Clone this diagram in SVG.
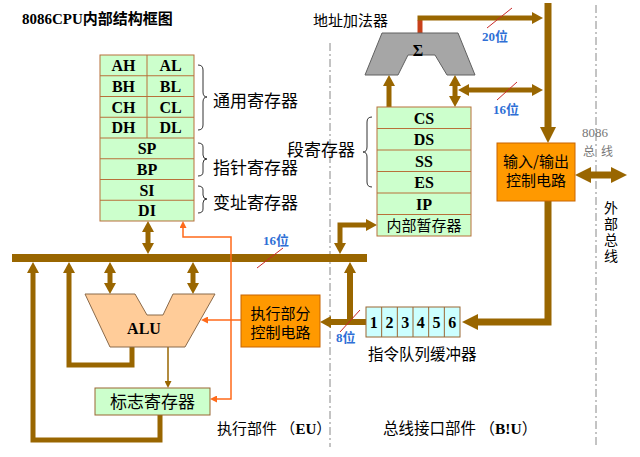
<svg xmlns="http://www.w3.org/2000/svg" width="640" height="457" viewBox="0 0 640 457">
<style>
.reg{fill:#ccffcc;stroke:#b8703a;stroke-width:1}
.q{fill:#ccffff;stroke:#996633;stroke-width:1}
.box{fill:#ff9900;stroke:#c86400;stroke-width:1}
.t{font-family:"Liberation Serif","Noto Sans CJK SC",serif;font-weight:bold;font-size:16px;text-anchor:middle;fill:#000}
.c{font-family:"Noto Sans CJK SC",sans-serif;font-size:17px;fill:#000}
.cm{font-family:"Noto Sans CJK SC",sans-serif;font-size:15px;fill:#000;text-anchor:middle}
.blue{font-family:"Liberation Serif","Noto Sans CJK SC",serif;font-weight:bold;font-size:13px;fill:#2f6fd6}
.b{stroke:#996600;fill:none;stroke-linejoin:miter}
.w5{stroke-width:5}
.w6{stroke-width:6}
.w7{stroke-width:7}
.or{stroke:#ff6a1a;fill:none;stroke-width:1.5}
.sl{stroke:#c82828;stroke-width:1}
.brace{stroke:#333;fill:none;stroke-width:1}
.div{stroke:#888;stroke-width:1;stroke-dasharray:8 3 2 3}
</style>
<defs>
<marker id="am" markerUnits="userSpaceOnUse" viewBox="0 -6 11 12" refX="0" refY="0" markerWidth="11" markerHeight="12" orient="auto-start-reverse"><path d="M0,-6 L11,0 L0,6 z" fill="#996600"/></marker>
<marker id="ab" markerUnits="userSpaceOnUse" viewBox="0 -8 16 16" refX="0" refY="0" markerWidth="16" markerHeight="16" orient="auto-start-reverse"><path d="M0,-8 L16,0 L0,8 z" fill="#996600"/></marker>
<marker id="ao" markerUnits="userSpaceOnUse" viewBox="0 -3.5 7 7" refX="0" refY="0" markerWidth="7" markerHeight="7" orient="auto-start-reverse"><path d="M0,-3.5 L7,0 L0,3.5 z" fill="#ff6a1a"/></marker>
<marker id="at" markerUnits="userSpaceOnUse" viewBox="0 -3.5 7 7" refX="0" refY="0" markerWidth="7" markerHeight="7" orient="auto-start-reverse"><path d="M0,-3.5 L7,0 L0,3.5 z" fill="#996600"/></marker>
</defs>
<rect width="640" height="457" fill="#fff"/>

<!-- dividers -->
<line class="div" x1="330" y1="43" x2="330" y2="447"/>
<line class="div" x1="596" y1="5" x2="596" y2="447"/>

<!-- title -->
<text x="22" y="24" style="font-family:'Liberation Serif','Noto Sans CJK SC',serif;font-weight:bold;font-size:15px">8086CPU内部结构框图</text>

<g id="connectors">
  <!-- EU bus -->
  <rect x="12" y="254" width="355" height="8" fill="#996600"/>
  <line class="sl" x1="257" y1="268" x2="283" y2="248"/>
  <!-- register <-> bus -->
  <line class="b w5" x1="148" y1="232" x2="148" y2="243" marker-start="url(#am)" marker-end="url(#am)"/>
  <!-- bus <-> ALU -->
  <line class="b w5" x1="110" y1="273" x2="110" y2="283" marker-start="url(#am)" marker-end="url(#am)"/>
  <line class="b w5" x1="193" y1="273" x2="193" y2="283" marker-start="url(#am)" marker-end="url(#am)"/>
  <!-- loops -->
  <path class="b w5" d="M160,415 V440 H33 V273" marker-end="url(#am)"/>
  <path class="b w5" d="M132,347 V365 H69 V273" marker-end="url(#am)"/>
  <!-- ALU -> flags -->
  <line x1="168" y1="347" x2="168" y2="381" stroke="#996600" stroke-width="1.5" marker-end="url(#at)"/>
  <!-- orange control lines -->
  <path class="or" d="M241,320 H208" marker-end="url(#ao)"/>
  <path class="or" d="M183,228 V237 H231 V399 H217" marker-start="url(#ao)" marker-end="url(#ao)"/>
  <!-- queue -> EU control -->
  <path class="b w6" d="M366,322 H331" marker-end="url(#am)"/>
  <path class="b w6" d="M350,325 V273" marker-end="url(#am)"/>
  <line class="sl" x1="340" y1="332" x2="360" y2="310"/>
  <!-- temp register <-> bus -->
  <path class="b w5" d="M340,243 V225 H366" marker-start="url(#am)" marker-end="url(#am)"/>
  <!-- IO -> queue -->
  <path class="b w7" d="M548,201 V322 H478" marker-end="url(#ab)"/>
  <!-- address bus down to IO -->
  <path class="b w7" d="M548,3 V127" marker-end="url(#ab)"/>
  <!-- adder output -->
  <line x1="420" y1="20" x2="420" y2="34" stroke="#c8401a" stroke-width="5"/>
  <path class="b w5" d="M417.5,18 H532" marker-end="url(#am)"/>
  <line class="sl" x1="487" y1="28" x2="512" y2="8"/>
  <!-- segment -> adder -->
  <path class="b w5" d="M389,107 V86" marker-end="url(#am)"/>
  <line class="b w5" x1="455" y1="86" x2="455" y2="96" marker-start="url(#am)" marker-end="url(#am)"/>
  <line class="b w5" x1="469" y1="90" x2="532" y2="90" marker-start="url(#am)" marker-end="url(#am)"/>
  <line class="sl" x1="497" y1="100" x2="517" y2="82"/>
  <!-- external bus -->
  <line class="b w7" x1="591" y1="175" x2="611" y2="175" marker-start="url(#ab)" marker-end="url(#ab)"/>
</g>

<!-- bit labels -->
<text class="blue" x="263" y="245">16位</text>
<text class="blue" x="482" y="41">20位</text>
<text class="blue" x="493" y="114">16位</text>
<text class="blue" x="336" y="342">8位</text>

<g id="general-registers">
  <rect class="reg" x="100" y="55" width="94" height="166"/>
  <line class="reg" x1="100" y1="75.75" x2="194" y2="75.75"/>
  <line class="reg" x1="100" y1="96.5" x2="194" y2="96.5"/>
  <line class="reg" x1="100" y1="117.25" x2="194" y2="117.25"/>
  <line class="reg" x1="100" y1="138" x2="194" y2="138"/>
  <line class="reg" x1="100" y1="158.75" x2="194" y2="158.75"/>
  <line class="reg" x1="100" y1="179.5" x2="194" y2="179.5"/>
  <line class="reg" x1="100" y1="200.25" x2="194" y2="200.25"/>
  <line class="reg" x1="147" y1="55" x2="147" y2="138"/>
  <text class="t" x="123.5" y="71">AH</text><text class="t" x="170.5" y="71">AL</text>
  <text class="t" x="123.5" y="91.8">BH</text><text class="t" x="170.5" y="91.8">BL</text>
  <text class="t" x="123.5" y="112.5">CH</text><text class="t" x="170.5" y="112.5">CL</text>
  <text class="t" x="123.5" y="133.3">DH</text><text class="t" x="170.5" y="133.3">DL</text>
  <text class="t" x="147" y="154">SP</text>
  <text class="t" x="147" y="174.8">BP</text>
  <text class="t" x="147" y="195.5">SI</text>
  <text class="t" x="147" y="216.3">DI</text>
</g>

<g id="register-braces">
  <path class="brace" d="M198,65 q5,0 5,5 v22 q0,5 4,5 q-4,0 -4,5 v23 q0,5 -5,5"/>
  <path class="brace" d="M198,143 q5,0 5,4 v8 q0,4 4,4 q-4,0 -4,4 v9 q0,4 -5,4"/>
  <path class="brace" d="M198,186 q5,0 5,4 v5 q0,4 4,4 q-4,0 -4,4 v6 q0,4 -5,4"/>
  <text class="c" x="213" y="107">通用寄存器</text>
  <text class="c" x="213" y="174">指针寄存器</text>
  <text class="c" x="213" y="209">变址寄存器</text>
</g>

<g id="alu">
  <polygon points="85,294 135,294 147,315 163,315 173,294 215,294 185,347 110,347" fill="#ffcc99" stroke="#8a6a4a" stroke-width="1"/>
  <text class="t" x="144" y="334">ALU</text>
</g>

<g id="flags">
  <rect class="reg" x="95" y="388" width="115" height="27" style="stroke:#996633"/>
  <text class="c" x="152.5" y="408" text-anchor="middle">标志寄存器</text>
</g>

<g id="eu-control">
  <rect class="box" x="241" y="295" width="79" height="52"/>
  <text class="cm" x="280.5" y="319">执行部分</text>
  <text class="cm" x="280.5" y="338">控制电路</text>
</g>

<g id="adder">
  <polygon points="382,33 458,33 475,75 447,75 435,55 408,55 398,75 365,75" fill="#a6a6a6" stroke="#606060" stroke-width="1"/>
  <text class="t" x="418" y="56" style="font-size:16px">Σ</text>
  <text class="cm" x="350.5" y="26" style="font-size:15px">地址加法器</text>
</g>

<g id="segment-registers">
  <rect class="reg" x="377" y="107" width="94" height="129"/>
  <line class="reg" x1="377" y1="128.5" x2="471" y2="128.5"/>
  <line class="reg" x1="377" y1="150" x2="471" y2="150"/>
  <line class="reg" x1="377" y1="171.5" x2="471" y2="171.5"/>
  <line class="reg" x1="377" y1="193" x2="471" y2="193"/>
  <line class="reg" x1="377" y1="214.5" x2="471" y2="214.5"/>
  <text class="t" x="424" y="123.5">CS</text>
  <text class="t" x="424" y="145">DS</text>
  <text class="t" x="424" y="166.5">SS</text>
  <text class="t" x="424" y="188">ES</text>
  <text class="t" x="424" y="209.5">IP</text>
  <text class="cm" x="424" y="231">内部暂存器</text>
  <path class="brace" d="M372,117 q-5,0 -5,5 v25 q0,5 -4,5 q4,0 4,5 v25 q0,5 5,5"/>
  <text class="c" x="287" y="156">段寄存器</text>
</g>

<g id="io-control">
  <rect class="box" x="497" y="143" width="78" height="58"/>
  <text class="cm" x="536" y="167">输入/输出</text>
  <text class="cm" x="536" y="186">控制电路</text>
</g>

<g id="queue">
  <rect class="q" x="366" y="307" width="94" height="30"/>
  <line class="q" x1="381.67" y1="307" x2="381.67" y2="337"/>
  <line class="q" x1="397.33" y1="307" x2="397.33" y2="337"/>
  <line class="q" x1="413" y1="307" x2="413" y2="337"/>
  <line class="q" x1="428.67" y1="307" x2="428.67" y2="337"/>
  <line class="q" x1="444.33" y1="307" x2="444.33" y2="337"/>
  <text class="t" x="373.8" y="328">1</text>
  <text class="t" x="389.5" y="328">2</text>
  <text class="t" x="405.2" y="328">3</text>
  <text class="t" x="420.8" y="328">4</text>
  <text class="t" x="436.5" y="328">5</text>
  <text class="t" x="452.2" y="328">6</text>
  <text class="c" x="368" y="360" style="font-size:15.5px">指令队列缓冲器</text>
</g>

<g id="external-bus-labels">
  <text x="582" y="137" style="font-family:'Liberation Serif',serif;font-size:13px;fill:#777">8086</text>
  <text x="583" y="156" style="font-family:'Noto Sans CJK SC',sans-serif;font-size:12px;fill:#777;letter-spacing:6px">总线</text>
  <text x="611" y="201" style="font-family:'Noto Sans CJK SC',sans-serif;font-size:14px;fill:#000;writing-mode:vertical-rl;letter-spacing:2px">外部总线</text>
</g>

<g id="section-labels">
  <text x="217" y="434" style="font-family:'Noto Sans CJK SC',sans-serif;font-size:15px">执行部件 （<tspan style="font-family:'Liberation Serif',serif;font-weight:bold">EU</tspan>）</text>
  <text x="383" y="434" style="font-family:'Noto Sans CJK SC',sans-serif;font-size:15.5px">总线接口部件 （<tspan style="font-family:'Liberation Serif',serif;font-weight:bold">B!U</tspan>）</text>
</g>
</svg>
